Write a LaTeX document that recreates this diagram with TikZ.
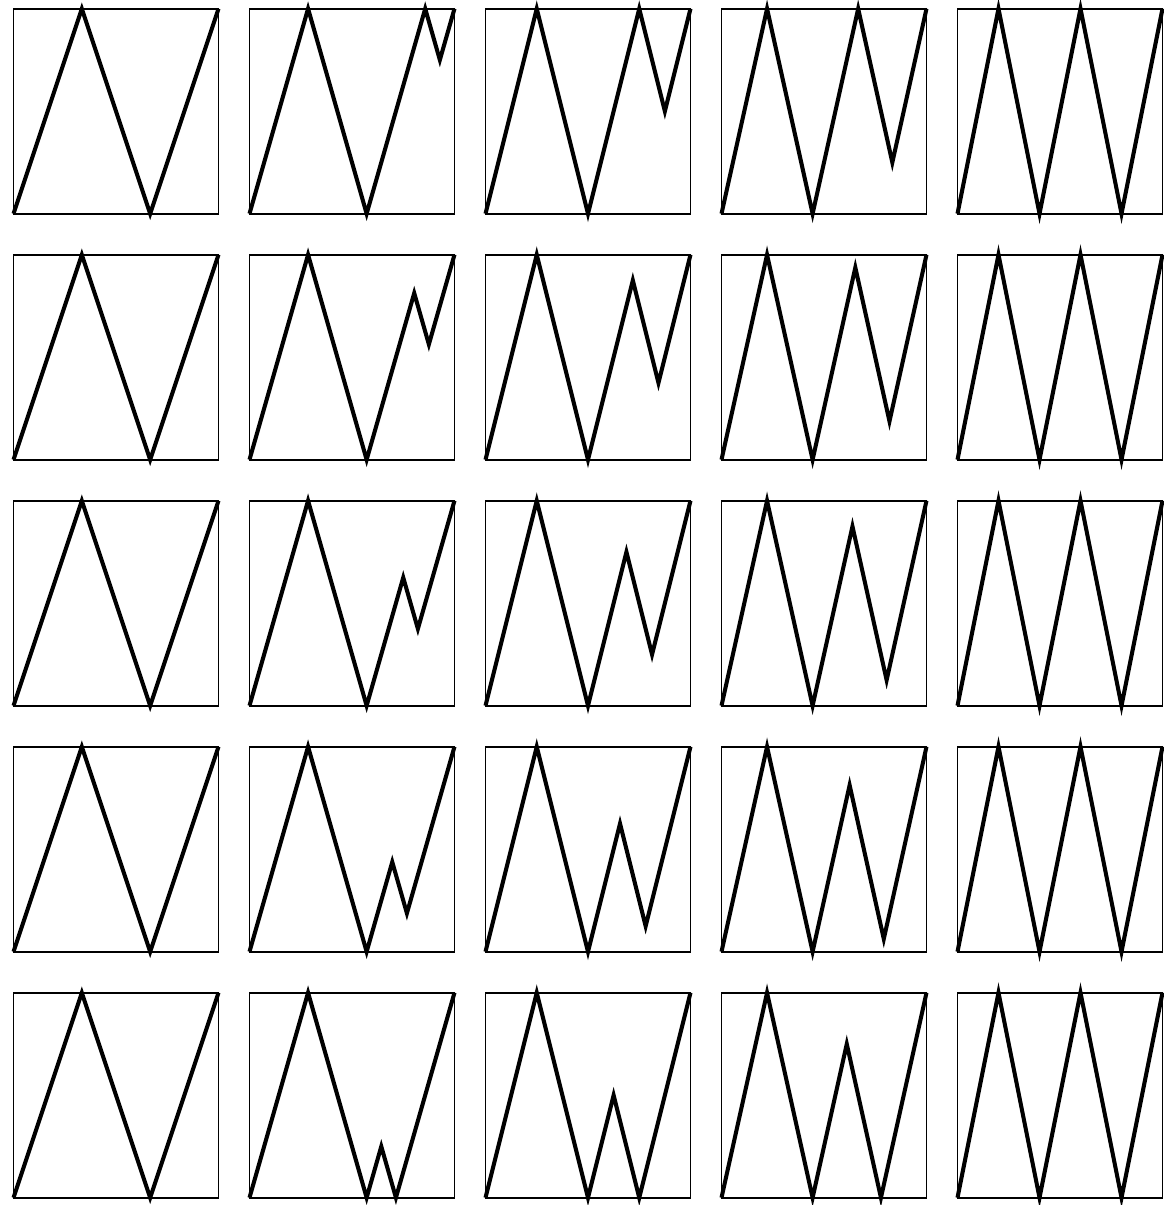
\documentclass[tikz,border=0pt]{standalone}
\begin{document}
\begin{tikzpicture}[x=0.02cm,y=-0.02cm,
  boxline/.style={line width=1.1pt},
  zig/.style={line width=2.3pt, line join=miter}]
\useasboundingbox (0,0) rectangle (1164,1205);
\foreach \r in {0,...,4}{
  \foreach \c in {1,...,5}{
    \pgfmathsetmacro{\X}{13.5+236*(\c-1)}
    \pgfmathsetmacro{\Y}{8.7+246*\r}
    \begin{scope}[shift={(\X,\Y)}]
      \draw[boxline] (0,0) rectangle (205,205);
      \ifnum\c=1
        \draw[zig] (0,205) -- (68.333,0) -- (136.667,205) -- (205,0);
      \else
        \pgfmathsetmacro{\k}{3+0.5*(\c-1)}
        \pgfmathsetmacro{\h}{(\k-3)/2}
        \pgfmathsetmacro{\a}{1-\r/4*(1-\h)}
        \draw[zig] (0,205) -- ({205/\k},0) -- ({410/\k},205)
          -- ({205*(2+\a)/\k},{205*(1-\a)})
          -- ({205*(2+\a+\h)/\k},{205*(1-\a+\h)}) -- (205,0);
      \fi
    \end{scope}
  }
}
\end{tikzpicture}
\end{document}
